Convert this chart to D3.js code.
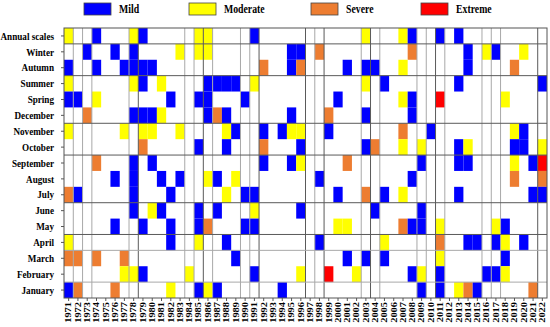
<!DOCTYPE html>
<html>
<head>
<meta charset="utf-8">
<script src="https://cdn.jsdelivr.net/npm/d3@7"></script>
<style>
  body { margin: 0; background: #fff; }
  text { font-family: "Times New Roman", "Liberation Serif", serif; font-weight: bold; fill: #000; }
</style>
</head>
<body>
<div id="chart"></div>
<script>

// drought class per row, one char per year 1971..2022
// 0 none, 1 mild, 2 moderate, 3 severe, 4 extreme
var years = d3.range(1971, 2023)
var rowLabels = ["Annual scales", "Winter", "Autumn", "Summer", "Spring", "December", "November",
	"October", "September", "August", "July", "June", "May", "April", "March", "February", "January"]
var levels = ["Mild", "Moderate", "Severe", "Extreme"]
var levelColors = ["#0000ff", "#ffff00", "#ed7d31", "#ff0000"]

var droughtCodes = [
	"2001000210 0000220000 1000000000 0020002100 1010000000 00", // Annual scales
	"0010010100 0020220000 0000110300 0000000300 0001021002 00", // Winter
	"1001001111 0000000000 0300130000 1011002000 0001000030 00", // Autumn
	"2000000210 2000011110 2000000000 0020100000 0010000000 01", // Summer
	"1102000000 0100110001 0000000001 0000002100 4000000200 00", // Spring
	"0030000111 2000013100 0000100030 0010000100 0000000000 00", // December
	"2000002022 0020000210 0101220010 0000003001 0000000021 00", // November
	"0000000030 0000100100 0300010000 0013002020 0012000011 02", // October
	"0003000101 0000000000 0100120000 3000000010 0011000020 14", // September
	"0000010100 1010021020 0000000100 0000000100 0000000030 03", // August
	"3100000100 0100000201 1000000001 0030102000 0010000000 11", // July
	"0000000102 1000101000 2000010000 0001000010 0000000000 00", // June
	"0000010010 0100130001 1000000002 2000003110 2000002100 00", // May
	"2000000000 0100200100 0000000100 0000200000 3001101201 00", // April
	"3303003000 0000000010 0000000000 1010100000 2000000100 00", // March
	"0000002210 0002000000 1000020040 0200000120 1000011200 00", // February
	"1300030000 0200121000 0001000000 0000000010 1023100000 30"  // January
]

// grid lines that the original draws (column / row boundaries)
var darkCols = [8, 15, 21, 26, 28, 33, 40, 51]
var grayCols = [1, 2, 3, 7, 13, 14, 16, 19, 20, 27, 32, 34, 38, 39, 41, 45, 46, 47]
var darkRows = [1, 3, 6, 8, 11, 13]
var grayRows = [14, 16]

var W = 550, H = 327
var gridL = 64, gridR = 547, gridT = 28, gridB = 298

var svg = d3.select("#chart").append("svg")
	.attr("width", W).attr("height", H)

var x = d3.scaleBand().domain(years).range([gridL, gridR])
var y = d3.scaleBand().domain(rowLabels).range([gridT, gridB])
var color = d3.scaleOrdinal().domain([1, 2, 3, 4]).range(levelColors)

var cells = []
droughtCodes.forEach(function(code, r){
	code.replace(/ /g, "").split("").forEach(function(ch, i){
		if (ch !== "0") cells.push({row: rowLabels[r], year: years[i], level: +ch})
	})
})

svg.append("g").selectAll("rect").data(cells).enter().append("rect")
	.attr("x", function(d){ return x(d.year) })
	.attr("y", function(d){ return y(d.row) })
	.attr("width", x.bandwidth())
	.attr("height", y.bandwidth())
	.attr("fill", function(d){ return color(d.level) })

var colPos = function(k){ return gridL + k * x.step() }
var rowPos = function(k){ return gridT + k * y.step() }

var grid = svg.append("g")
grid.selectAll(".vg").data(grayCols).enter().append("line")
	.attr("x1", colPos).attr("x2", colPos).attr("y1", gridT).attr("y2", gridB)
	.style("stroke", "#a8a8a8").style("stroke-width", 1)
grid.selectAll(".vd").data(darkCols).enter().append("line")
	.attr("x1", colPos).attr("x2", colPos).attr("y1", gridT).attr("y2", gridB)
	.style("stroke", "#5a5a5a").style("stroke-width", 1)
grid.selectAll(".hg").data(grayRows).enter().append("line")
	.attr("y1", rowPos).attr("y2", rowPos).attr("x1", gridL).attr("x2", gridR)
	.style("stroke", "#a8a8a8").style("stroke-width", 1)
grid.selectAll(".hd").data(darkRows).enter().append("line")
	.attr("y1", rowPos).attr("y2", rowPos).attr("x1", gridL).attr("x2", gridR)
	.style("stroke", "#5a5a5a").style("stroke-width", 1)

svg.append("rect")
	.attr("x", gridL).attr("y", gridT)
	.attr("width", gridR - gridL).attr("height", gridB - gridT)
	.attr("fill", "none").style("stroke", "#555").style("stroke-width", 1)

// row labels + ticks
svg.append("g").selectAll("line").data(rowLabels).enter().append("line")
	.attr("x1", gridL - 3).attr("x2", gridL)
	.attr("y1", function(d){ return y(d) + y.bandwidth() / 2 })
	.attr("y2", function(d){ return y(d) + y.bandwidth() / 2 })
	.style("stroke", "#555")

svg.append("g").selectAll("text").data(rowLabels).enter().append("text")
	.attr("transform", function(d){
		return "translate(54," + (y(d) + y.bandwidth() / 2) + ") scale(0.87,1)" })
	.attr("dy", "0.35em")
	.attr("text-anchor", "end")
	.style("font-size", "10.5px")
	.text(function(d){ return d })

// year labels + ticks
svg.append("g").selectAll("line").data(years).enter().append("line")
	.attr("x1", function(d){ return x(d) + x.bandwidth() / 2 })
	.attr("x2", function(d){ return x(d) + x.bandwidth() / 2 })
	.attr("y1", gridB).attr("y2", gridB + 3)
	.style("stroke", "#555")

svg.append("g").selectAll("text").data(years).enter().append("text")
	.attr("transform", function(d){
		return "translate(" + (x(d) + x.bandwidth() / 2) + "," + (gridB + 4) + ") rotate(-90) scale(1.3,1)" })
	.attr("dy", "0.35em")
	.attr("text-anchor", "end")
	.style("font-size", "8px")
	.text(function(d){ return d })

// legend
var legendX = [84, 189, 311, 421]
var legend = svg.append("g").selectAll("g").data(levels).enter().append("g")
	.attr("transform", function(d, i){ return "translate(" + legendX[i] + ",3)" })
legend.append("rect")
	.attr("width", 27).attr("height", 12)
	.attr("fill", function(d, i){ return levelColors[i] })
	.style("stroke", "#444").style("stroke-width", 0.8)
legend.append("text")
	.attr("transform", "translate(35,6) scale(0.85,1)")
	.attr("dy", "0.35em")
	.style("font-size", "11.5px")
	.text(function(d){ return d })

</script>
</body>
</html>
